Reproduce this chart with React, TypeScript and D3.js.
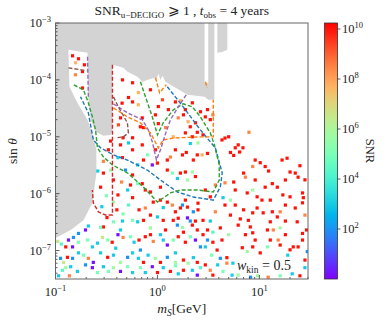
import React from 'react';
import * as d3 from 'd3';

const W = 391;
const H = 324;
const M = { left: 55.5, right: 308, top: 23, bottom: 279 };
const FONT = '"Liberation Serif", "DejaVu Serif", serif';

// scatter points: [m_S in GeV, sin theta, SNR]
const scatterPoints: [number, number, number][] = [
  [0.147, 2.65e-4, 1e10], [0.168, 2.35e-4, 1e10], [0.157, 2.0e-4, 5e7], [0.192, 1.84e-4, 1e10],
  [0.184, 1.4e-4, 1e10], [0.157, 1.23e-4, 3e8], [0.184, 7.2e-5, 1e10], [0.454, 1.0e-4, 1e10],
  [0.57, 8.9e-5, 1e10], [0.65, 6.0e-5, 5e7], [0.52, 4.9e-5, 1e10], [0.57, 4.1e-5, 1e10],
  [0.65, 3.65e-5, 5e7], [0.45, 3.9e-5, 1e10], [1.02, 3.4e-5, 1e10], [1.28, 3.0e-5, 1e10],
  [1.5, 4.1e-5, 1e10], [1.88, 3.0e-5, 1e10], [0.71, 2.15e-5, 1e10], [0.956, 2.43e-5, 1e10],
  [0.68, 1.5e-5, 1e10], [1.02, 1.7e-5, 1e10], [2.0, 1.84e-5, 5e7], [1.88, 1.17e-5, 1e10],
  [2.46, 1.2e-5, 1e10], [0.347, 8.4e-6, 1e10], [0.46, 9.6e-6, 1e10], [0.57, 9.6e-6, 1e10],
  [0.73, 1.45e-5, 1e10], [1.43, 1.0e-5, 5e7], [2.2, 1.0e-5, 1e10], [1.68, 4.3e-5, 5e7],
  [2.2, 3.95e-5, 1e10], [1.8, 2.43e-5, 1e10], [2.1, 1.5e-5, 1e10], [2.36, 1.76e-5, 1e10],
  [3.1, 3.0e-5, 1e10], [2.95, 2.24e-5, 1e10], [3.3, 2.0e-5, 1e10], [3.5, 2.43e-5, 3e8],
  [0.854, 6.7e-5, 1e10], [1.12, 4.47e-5, 2e9], [1.6, 2.15e-5, 3e8], [0.434, 2.15e-5, 1e10],
  [0.414, 1.62e-5, 2e9], [1.2, 1.45e-5, 3e8], [2.64, 2.75e-5, 1e10], [7.9, 1.2e-5, 3e8],
  [4.3, 8.8e-6, 1e10], [4.6, 9.5e-6, 1e10], [5.0, 1.0e-5, 1e10], [5.8, 6.4e-6, 1e10],
  [6.2, 7.2e-6, 1e10], [6.9, 6.4e-6, 1e10], [2.8, 1.08e-5, 1e10], [2.1, 7.6e-6, 1e3],
  [2.5, 7.8e-6, 5e5], [6.4, 5.4e-6, 1e10], [5.2, 5.3e-6, 1e10], [5.6, 4.7e-6, 1e10],
  [2.46, 4.8e-6, 1e10], [2.75, 4.8e-6, 5e7], [3.1, 5.1e-6, 1e10], [16.7, 3.9e-6, 1e10],
  [18.7, 4.2e-6, 1e10], [10.2, 3.5e-6, 1e10], [11.4, 3.0e-6, 1e10], [8.6, 3.0e-6, 3e8],
  [7.0, 2.3e-6, 1e10], [5.6, 1.6e-6, 1e10], [4.6, 1.55e-6, 3e8], [3.7, 1.42e-6, 3e8],
  [20, 2.4e-6, 1e10], [22.5, 2.3e-6, 1e10], [24, 1.95e-6, 1e10], [13.4, 1.5e-6, 1e10],
  [11.4, 1.3e-6, 1e10], [15, 1.3e-6, 1e10], [8.6, 1.16e-6, 5e5], [7.6, 1.03e-6, 1e10],
  [9.5, 8.8e-7, 1e10], [4.4, 8.5e-7, 1e3], [5.2, 7.7e-7, 5e5], [17, 9.5e-7, 1e10],
  [20, 8.8e-7, 1e10], [26.5, 1.03e-6, 1e10], [27, 8.5e-7, 1e10], [26.5, 6.9e-7, 1e10],
  [7.0, 5.2e-7, 1e10], [8.6, 4.6e-7, 1e10], [9.5, 5.6e-7, 1e10], [10.9, 4.6e-7, 1e10],
  [13.4, 4.8e-7, 1e10], [16, 4.8e-7, 3e8], [15, 3.9e-7, 1e10], [12.8, 3.2e-7, 1e10],
  [12, 2.3e-7, 1e10], [13.7, 2.3e-7, 3e8], [16, 2.5e-7, 5e5], [23.5, 3.2e-7, 1e10],
  [29, 2.3e-7, 1e10], [26.5, 2.0e-7, 1e10], [21.5, 1.16e-7, 1e10], [24, 1.16e-7, 1e10],
  [20, 1.03e-7, 1e10], [29.5, 9.6e-8, 1e2], [19, 8.3e-8, 1e3], [6.5, 3.6e-7, 1e10],
  [7.8, 3.4e-7, 1e10], [8.15, 2.6e-7, 1e10], [8.6, 2.05e-7, 1e10], [9.1, 1.53e-7, 1e10],
  [8.6, 1.16e-7, 1e10], [6.8, 1.12e-7, 1e10], [7.6, 9.6e-8, 5e5], [12, 1.16e-7, 1e5],
  [10.2, 9.1e-8, 1e10], [15.3, 1.53e-7, 3e8], [18, 1.9e-7, 1e10], [1.76, 6.3e-7, 1e2],
  [1.97, 5.8e-7, 1e10], [2.25, 4.8e-7, 1e2], [1.97, 3.75e-7, 1.5], [2.1, 3.3e-7, 1e2],
  [2.36, 3.3e-7, 1e10], [1.76, 2.55e-7, 5e5], [2.8, 3.4e-7, 1e10], [3.3, 3.3e-7, 1e3],
  [3.1, 2.3e-7, 1e10], [4.14, 2.5e-7, 1e10], [2.8, 1.9e-7, 1e10], [3.5, 2.1e-7, 2e4],
  [3.1, 1.53e-7, 1e2], [3.5, 1.4e-7, 1e10], [3.85, 1.02e-7, 1e10], [4.3, 1.53e-7, 1e10],
  [2.95, 1.16e-7, 1e3], [2.64, 1.16e-7, 1e2], [2.36, 1.53e-7, 1.5], [2.25, 7.5e-8, 1e3],
  [3.4, 8.3e-8, 1e5], [4.8, 7.5e-8, 1e10], [4.8, 6.0e-8, 3e8], [4.4, 4.3e-8, 1e5],
  [3.5, 3.7e-8, 1e10], [2.95, 5.6e-8, 1e10], [2.64, 5.0e-8, 2e4], [5.5, 6.0e-8, 1e3],
  [6.2, 3.7e-8, 5e5], [25, 3.1e-6, 1e10], [28, 1.75e-6, 1e10], [12.3, 2.5e-6, 1e10],
  [9.1, 3.9e-6, 1e10], [7.3, 1.95e-6, 3e8], [18, 6.3e-7, 1e10], [22.5, 5.6e-7, 1e10],
  [10.6, 7.7e-7, 1e10], [28, 4.2e-7, 3e8], [5.8, 6.3e-7, 1e10], [18, 3.3e-7, 1e10],
  [26.5, 1.53e-7, 1e10], [16, 1.25e-7, 1e10], [12.8, 1.53e-7, 1e10], [0.434, 7.2e-6, 1e10],
  [0.52, 7.8e-6, 1e3], [0.57, 5.9e-6, 1e10], [0.41, 4.3e-6, 1e3], [0.454, 4.3e-6, 1e10],
  [0.486, 2.6e-6, 1e2], [0.26, 2.5e-6, 1e3], [0.295, 2.3e-6, 1e10], [0.37, 1.74e-6, 1e10],
  [0.445, 1.6e-6, 3e8], [0.57, 2.13e-6, 1e10], [0.64, 3.2e-6, 1e3], [0.73, 3.9e-6, 1e10],
  [0.8, 4.8e-6, 1e5], [0.89, 3.2e-6, 1.5], [1.0, 3.45e-6, 1e10], [1.25, 3.9e-6, 1e10],
  [1.34, 4.4e-6, 3e8], [1.5, 5.9e-6, 1e10], [1.76, 4.8e-6, 1e10], [1.92, 5.3e-6, 1e10],
  [2.25, 3.9e-6, 1e10], [1.25, 2.6e-6, 1e10], [1.4, 2.3e-6, 1e5], [1.57, 1.85e-6, 1e3],
  [1.68, 2.3e-6, 1e10], [1.88, 2.4e-6, 1e10], [2.2, 2.4e-6, 5e5], [2.36, 2.0e-6, 1e10],
  [1.97, 1.74e-6, 5e5], [0.64, 1.5e-6, 1e5], [0.71, 1.5e-6, 1e10], [0.76, 1.16e-6, 1e10],
  [0.854, 1.07e-6, 1e10], [0.57, 8.5e-7, 1e10], [0.51, 1.16e-6, 1e3], [0.41, 9.5e-7, 1e10],
  [0.37, 7.1e-7, 5e5], [0.66, 5.2e-7, 1e10], [0.76, 5.6e-7, 3e8], [0.91, 7.1e-7, 1e10],
  [1.07, 7.7e-7, 1e10], [1.25, 7.1e-7, 1e10], [1.14, 5.7e-7, 1e3], [1.4, 6.3e-7, 3e8],
  [1.5, 4.8e-7, 1e10], [1.68, 5.6e-7, 1e10], [1.88, 7.7e-7, 1e10], [2.5, 6.8e-7, 1e10],
  [2.5, 5.2e-7, 1e10], [0.854, 4.2e-7, 1e10], [1.0, 3.9e-7, 1e3], [1.14, 3.4e-7, 1e10],
  [1.43, 3.4e-7, 1e10], [1.6, 3.7e-7, 1e10], [2.2, 2.8e-7, 1e10], [1.57, 2.8e-7, 1e2],
  [2.46, 2.3e-7, 1e10], [0.73, 3.4e-7, 1e10], [0.64, 3.2e-7, 1e3], [0.57, 3.4e-7, 1e5],
  [0.454, 3.3e-7, 1e3], [0.46, 4.4e-7, 1e5], [0.37, 3.2e-7, 1e5], [0.32, 3.8e-7, 1e10],
  [0.295, 2.6e-7, 1e10], [0.21, 2.7e-7, 1e3], [0.197, 2.3e-7, 1.5], [0.168, 2.0e-7, 1e2],
  [0.15, 1.7e-7, 1e2], [0.134, 1.53e-7, 1.5], [0.126, 1.16e-7, 1e10], [0.147, 1.16e-7, 1.5],
  [0.168, 1.4e-7, 1e5], [0.206, 1.53e-7, 1e5], [0.23, 1.16e-7, 1e3], [0.258, 1.35e-7, 1e3],
  [0.29, 1.7e-7, 3e6], [0.325, 1.53e-7, 1e5], [0.36, 1.4e-7, 1e10], [0.41, 1.9e-7, 1.5],
  [0.46, 1.7e-7, 3e8], [0.544, 1.75e-7, 1e5], [0.59, 1.4e-7, 1e3], [0.66, 1.53e-7, 1e10],
  [0.76, 1.75e-7, 1e10], [0.854, 1.9e-7, 1e10], [0.91, 1.45e-7, 3e8], [1.07, 1.9e-7, 1e3],
  [1.14, 1.53e-7, 1e3], [1.25, 1.25e-7, 1.5], [1.43, 1.53e-7, 1e5], [1.6, 1.75e-7, 1e10],
  [1.88, 1.4e-7, 1e10], [2.1, 1.75e-7, 1e5], [1.8, 2.1e-7, 1e10], [0.131, 7.6e-8, 1e10],
  [0.147, 7.3e-8, 1e2], [0.168, 9.1e-8, 1e3], [0.188, 8.3e-8, 1e5], [0.21, 7.3e-8, 3e8],
  [0.235, 6.2e-8, 1.5], [0.277, 9.1e-8, 1e3], [0.325, 7.6e-8, 1e10], [0.37, 8.3e-8, 1e3],
  [0.434, 6.2e-8, 5e5], [0.51, 7.6e-8, 1e2], [0.57, 9.1e-8, 1e3], [0.65, 7.3e-8, 1e3],
  [0.73, 6.2e-8, 1e10], [0.81, 8.3e-8, 1e3], [0.956, 7.3e-8, 5e5], [1.07, 6.2e-8, 1e10],
  [1.25, 7.6e-8, 1e2], [1.5, 9.1e-8, 1e3], [1.8, 6.8e-8, 1e10], [2.0, 6.0e-8, 5e5],
  [2.46, 6.2e-8, 1e10], [0.126, 5.0e-8, 5e5], [0.141, 5.2e-8, 1e3], [0.164, 4.3e-8, 1e3],
  [0.197, 5.6e-8, 1e2], [0.23, 5.0e-8, 1.5], [0.258, 4.1e-8, 1e5], [0.295, 5.2e-8, 1e3],
  [0.33, 4.3e-8, 1e5], [0.37, 5.0e-8, 5e5], [0.434, 4.3e-8, 1.5], [0.51, 5.2e-8, 1e5],
  [0.57, 4.1e-8, 1e3], [0.68, 5.0e-8, 1e5], [0.76, 4.1e-8, 1e3], [0.89, 5.2e-8, 1.5],
  [1.0, 4.1e-8, 1e10], [1.14, 5.0e-8, 1e3], [1.34, 4.3e-8, 1e10], [1.5, 5.4e-8, 1e5],
  [1.6, 3.9e-8, 1e3], [1.8, 4.5e-8, 1e10], [2.2, 4.5e-8, 1e3], [2.46, 3.7e-8, 1.5],
  [0.107, 3.6e-8, 1e3], [0.117, 4.5e-8, 2e4], [0.105, 1.45e-7, 3e6], [0.114, 1.3e-7, 2e4],
  [0.112, 7.3e-8, 1e2], [0.12, 6.2e-8, 3e6], [0.137, 3.6e-8, 3e8], [5.4, 3.7e-8, 1e3],
  [8.2, 3.4e-8, 1e2], [9.6, 3.6e-8, 5e5], [12.2, 3.4e-8, 3e8], [16, 3.6e-8, 1e5],
  [21, 3.9e-8, 1e3], [25, 3.6e-8, 1e10], [28, 5.0e-8, 1e3], [28, 6.8e-8, 1e10],
  [3.9, 5.6e-8, 1e3], [3.3, 4.5e-8, 3e8], [4.14, 7.3e-8, 1e2], [0.277, 1.3e-6, 1e10],
  [0.315, 9.2e-7, 1e5], [0.285, 5.9e-7, 1e3], [0.4, 5.2e-7, 1e10], [0.52, 6.3e-7, 2e4],
  [0.33, 5.9e-6, 1e10], [0.295, 3.7e-6, 3e8], [0.71, 7.2e-6, 1e10], [0.956, 5.9e-6, 1e10],
  [4.6, 6.3e-7, 1e10], [3.7, 4.8e-7, 3e8], [5.2, 4.2e-7, 1e10], [6.2, 2.8e-7, 1e10],
  [5.0, 1.9e-7, 5e5], [7.3, 1.9e-7, 1e10], [5.8, 1.16e-6, 1e10], [2.95, 1.16e-6, 1e10],
  [3.3, 8.8e-7, 1e10], [12.8, 7.7e-7, 1e10], [18, 1.74e-6, 1e10], [9.1, 1.74e-6, 1e10],
  [0.434, 2.3e-7, 1e3], [0.854, 2.5e-7, 5e5], [1.2, 2.3e-7, 1e10], [0.68, 1.02e-7, 1e2],
  [0.39, 1.1e-7, 1e3], [1.5, 6.2e-8, 5e5], [0.277, 2.55e-7, 1e5], [0.544, 1.42e-6, 1e10],
  [0.347, 2.6e-6, 5e5], [1.07, 1.3e-6, 1e10],
];

// excluded (grey) region, traced along its edge
const excludedRegion: [number, number][] = [
  [0.1, 1e-3], [2.9, 1e-3], [2.9, 8.9e-5], [3.15, 8.9e-5], [3.15, 1e-3], [3.62, 1e-3],
  [3.62, 4.47e-5], [3.15, 4.47e-5], [2.9, 5.04e-5], [1.97, 5.5e-5], [1.34, 8.2e-5],
  [1.2, 9.3e-5], [1.12, 1.18e-4], [1.07, 1.0e-4], [1.02, 1.28e-4], [0.978, 1.04e-4],
  [0.914, 1.08e-4], [0.796, 1.0e-4], [0.713, 9.3e-5], [0.637, 1.13e-4], [0.508, 1.39e-4],
  [0.463, 1.63e-4], [0.362, 1.84e-4], [0.362, 1.32e-5], [0.347, 1.08e-5], [0.295, 1.04e-5],
  [0.247, 1.22e-5], [0.221, 2.0e-5], [0.21, 4.47e-5], [0.206, 3.0e-4], [0.134, 3.39e-4],
  [0.137, 7.6e-5], [0.164, 3.95e-5], [0.206, 2.0e-5], [0.235, 1.0e-5], [0.252, 5.9e-6],
  [0.252, 2.31e-6], [0.23, 6.86e-7], [0.188, 3.4e-7], [0.141, 2.3e-7], [0.1, 1.66e-7],
];
const excludedStrip: [number, number][] = [
  [3.87, 1e-3], [4.85, 1e-3], [4.85, 3.39e-4], [4.3, 3.1e-4], [3.87, 3.0e-4],
];

// dashed contours
const blueContour: [number, number][] = [
  [1.25, 7.57e-5], [1.79, 3.36e-5], [2.64, 1.32e-5], [3.7, 6.38e-6], [4.32, 2.31e-6],
  [4.14, 1.31e-6], [3.53, 7.7e-7], [2.25, 8.75e-7], [1.57, 1.07e-6], [1.07, 1.74e-6],
  [0.796, 2.6e-6], [0.508, 3.9e-6], [0.37, 4.8e-6], [0.277, 6.38e-6], [0.235, 8.8e-6],
  [0.21, 2.64e-5], [0.176, 5.04e-5],
];
const greenContour: [number, number][] = [
  [0.681, 9.27e-5], [0.763, 5.04e-5], [0.891, 2.24e-5], [1.0, 1.08e-5], [1.14, 1.76e-5],
  [1.43, 2.98e-5], [1.79, 3.79e-5], [2.2, 3.36e-5], [2.64, 2.24e-5], [3.3, 1.17e-5],
  [3.62, 7.2e-6], [4.04, 3.2e-6], [4.04, 1.74e-6], [3.53, 1.07e-6], [2.46, 1.16e-6],
  [1.68, 1.16e-6], [1.34, 1.03e-6], [1.0, 7.14e-7], [0.728, 1.31e-6], [0.508, 2.31e-6],
  [0.362, 3.2e-6], [0.295, 4.43e-6], [0.258, 6.38e-6], [0.247, 1.32e-5], [0.23, 2.24e-5],
  [0.21, 3.95e-5], [0.188, 6.7e-5], [0.15, 8.2e-5],
];
const orangeContourA: [number, number][] = [[0.956, 1.09e-4], [1.05, 5.93e-5], [1.22, 8.2e-5]];
const orangeContourB: [number, number][] = [
  [0.37, 3.23e-5], [0.508, 2.24e-5], [0.681, 1.76e-5], [0.854, 1.17e-5], [1.02, 6.38e-6],
  [1.14, 8.83e-6], [1.5, 9.57e-6], [2.64, 9.95e-6], [3.53, 9.95e-6], [3.53, 4.47e-5],
];
const orangeContourC: [number, number][] = [[2.95, 9.27e-5], [3.08, 7.26e-5]];
const purpleContourA: [number, number][] = [[0.206, 2.55e-4], [0.21, 5.04e-5]];
const purpleContourB: [number, number][] = [
  [0.37, 3.79e-5], [0.508, 2.64e-5], [0.713, 1.98e-5], [0.814, 1.32e-5], [0.891, 8.13e-6],
  [0.978, 3.92e-6], [1.07, 5.88e-6], [1.19, 1.08e-5], [1.34, 1.98e-5], [1.6, 3.36e-5],
  [1.92, 5.47e-5],
];
const brownContourA: [number, number][] = [[0.134, 1.63e-4], [0.201, 1.45e-4]];
const brownContourB: [number, number][] = [
  [0.37, 5.04e-5], [0.414, 3.36e-5], [0.507, 1.76e-5], [0.519, 1.17e-5], [0.463, 9.95e-6],
  [0.387, 9.57e-6],
];
const redContour: [number, number][] = [
  [0.362, 1.84e-4], [0.362, 4.22e-7], [0.309, 4.22e-7], [0.264, 4.76e-7], [0.235, 6.86e-7],
  [0.23, 1.16e-6],
];

const xTickExps = ['−1', '0', '1'];
const yTickExps = ['−3', '−4', '−5', '−6', '−7'];
const cbarTickExps = ['2', '4', '6', '8', '10'];

const contours = [
  { color: '#1f77b4', pts: blueContour },
  { color: '#2ca02c', pts: greenContour },
  { color: '#ff7f0e', pts: orangeContourA },
  { color: '#ff7f0e', pts: orangeContourB },
  { color: '#ff7f0e', pts: orangeContourC },
  { color: '#9467bd', pts: purpleContourA },
  { color: '#9467bd', pts: purpleContourB },
  { color: '#8c564b', pts: brownContourA },
  { color: '#8c564b', pts: brownContourB },
  { color: '#d62728', pts: redContour },
];

// matplotlib "rainbow"
const rainbow = (t: number) => {
  const r = Math.min(1, Math.abs(2 * t - 0.5));
  const g = Math.max(0, Math.sin(Math.PI * t));
  const b = Math.max(0, Math.cos((Math.PI * t) / 2));
  return `rgb(${Math.round(r * 255)},${Math.round(g * 255)},${Math.round(b * 255)})`;
};

const App = () => {
  const x = d3.scaleLog().domain([0.1, 30]).range([M.left, M.right]);
  const y = d3.scaleLog().domain([Math.pow(10, -7.5), 1e-3]).range([M.bottom, M.top]);
  const cMax = Math.pow(10, 10.24);
  const cNorm = d3.scaleLog().domain([1, cMax]).range([0, 1]).clamp(true);
  const cY = d3.scaleLog().domain([1, cMax]).range([M.bottom, M.top]);

  const line = d3.line<[number, number]>().x((d) => x(d[0])).y((d) => y(d[1]));

  const isMajor = (v: number) => Math.abs(Math.log10(v) - Math.round(Math.log10(v))) < 1e-6;
  const xTicks = x.ticks().filter((v) => v >= 0.1 && v <= 30);
  const yTicks = y.ticks();
  const xMajor = xTicks.filter(isMajor);
  const yMajor = yTicks.filter(isMajor).sort((a, b) => b - a);
  const cbarTicks = [1e2, 1e4, 1e6, 1e8, 1e10];

  const stops = d3.range(0, 1.0001, 0.05);
  const sq = 3.2;

  return (
    <svg width={W} height={H} style={{ position: 'absolute', left: 0, top: 0, background: '#fff' }}
      fontFamily={FONT}>
      <defs>
        <clipPath id="plotClip">
          <rect x={M.left} y={M.top} width={M.right - M.left} height={M.bottom - M.top} />
        </clipPath>
        <linearGradient id="cbarGrad" x1="0" y1="1" x2="0" y2="0">
          {stops.map((t) => (
            <stop key={t} offset={t} stopColor={rainbow(t)} />
          ))}
        </linearGradient>
      </defs>

      <g clipPath="url(#plotClip)">
        <path d={line(excludedRegion) + 'Z'} fill="#d3d3d3" />
        <path d={line(excludedStrip) + 'Z'} fill="#d3d3d3" />
        {scatterPoints.map((p, i) => (
          <rect key={i} x={x(p[0]) - sq / 2} y={y(p[1]) - sq / 2} width={sq} height={sq}
            fill={rainbow(cNorm(p[2]))} />
        ))}
        {contours.map((c, i) => (
          <path key={i} d={line(c.pts) || ''} fill="none" stroke={c.color} strokeWidth={1.4}
            strokeDasharray="4 2" />
        ))}
      </g>

      {/* ticks */}
      {xTicks.map((v) => (
        <line key={'xt' + v} x1={x(v)} x2={x(v)} y1={M.bottom} y2={M.bottom - (isMajor(v) ? 4 : 2)}
          stroke="#333" strokeWidth={0.8} />
      ))}
      {yTicks.map((v) => (
        <line key={'yt' + v} x1={M.left} x2={M.left + (isMajor(v) ? 4 : 2)} y1={y(v)} y2={y(v)}
          stroke="#333" strokeWidth={0.8} />
      ))}
      <rect x={M.left} y={M.top} width={M.right - M.left} height={M.bottom - M.top} fill="none"
        stroke="#666" strokeWidth={1} />

      {xMajor.map((v, i) => (
        <text key={'xl' + v} x={x(v)} y={296} textAnchor="middle" fontSize={12.5} fill="#222">
          10<tspan dy={-5} fontSize={8.5}>{xTickExps[i]}</tspan>
        </text>
      ))}
      {yMajor.map((v, i) => (
        <text key={'yl' + v} x={51} y={y(v) + 4} textAnchor="end" fontSize={12.5} fill="#222">
          10<tspan dy={-5} fontSize={8.5}>{yTickExps[i]}</tspan>
        </text>
      ))}

      {/* title */}
      <text x={(M.left + M.right) / 2} y={15} textAnchor="middle" fontSize={13.5} fill="#222">
        SNR<tspan dy={3} fontSize={9}>u−DECIGO</tspan>
        <tspan dy={-3}> ⩾ 1 ,  </tspan>
        <tspan fontStyle="italic">t</tspan>
        <tspan dy={3} fontSize={9}>obs</tspan>
        <tspan dy={-3}> = 4 years</tspan>
      </text>

      {/* axis labels */}
      <text x={(M.left + M.right) / 2} y={313} textAnchor="middle" fontSize={13.5} fill="#222">
        <tspan fontStyle="italic">m</tspan>
        <tspan dy={3} fontSize={9.5} fontStyle="italic">S</tspan>
        <tspan dy={-3}>[GeV]</tspan>
      </text>
      <text transform={`translate(17,${(M.top + M.bottom) / 2}) rotate(-90)`} textAnchor="middle"
        fontSize={13.5} fill="#222">
        sin <tspan fontStyle="italic">θ</tspan>
      </text>

      <text x={237} y={270} fontSize={14} fill="#222">
        <tspan fontStyle="italic">w</tspan>
        <tspan dy={3} fontSize={9.5}>kin</tspan>
        <tspan dy={-3}> = 0.5</tspan>
      </text>

      {/* colorbar */}
      <rect x={324.5} y={M.top} width={13} height={M.bottom - M.top} fill="url(#cbarGrad)"
        stroke="#333" strokeWidth={0.8} />
      {cbarTicks.map((v, i) => (
        <g key={'cb' + v}>
          <line x1={337.5} x2={340.5} y1={cY(v)} y2={cY(v)} stroke="#333" strokeWidth={0.8} />
          <text x={342} y={cY(v) + 4} fontSize={12.5} fill="#222">
            10<tspan dy={-5} fontSize={8.5}>{cbarTickExps[i]}</tspan>
          </text>
        </g>
      ))}
      <text transform={`translate(366,${(M.top + M.bottom) / 2}) rotate(90)`} textAnchor="middle"
        fontSize={12.5} fill="#222">
        SNR
      </text>
    </svg>
  );
};

export default App;
